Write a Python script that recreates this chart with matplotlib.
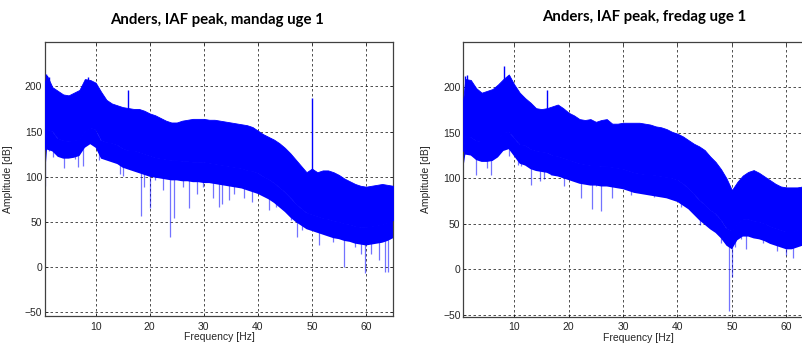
import numpy as np
import matplotlib
matplotlib.use('Agg')
import matplotlib.pyplot as plt

# spectrum envelopes on a 1 Hz grid (dB)
FREQ = [0.6] + list(range(1, 66))

# mandag: upper edge, lower edge of the solid band, lower edge of the dense fringe
MON_TOP = [205, 212, 199, 195, 191, 190, 193, 196, 208, 207, 204,
           194, 185, 181, 179, 177, 176, 175, 175, 173, 170,
           168, 165, 162, 160, 160, 162, 163, 164, 164, 164,
           163, 163, 162, 161, 160, 159, 158, 157, 155, 151,
           147, 144, 141, 137, 132, 126, 119, 112, 105, 109,
           105, 107, 107, 105, 102, 98, 95, 92, 90, 89,
           90, 91, 92, 91, 90]
MON_LOW = [130, 152, 150, 142, 140, 139, 140, 141, 150, 154, 152,
           140, 138, 137, 135, 131, 129, 129, 127, 125, 123,
           121, 120, 119, 118, 118, 117, 117, 116, 116, 116,
           115, 114, 113, 112, 111, 110, 109, 107, 106, 104,
           100, 97, 93, 88, 83, 77, 70, 65, 60, 58,
           56, 54, 53, 51, 50, 48, 47, 45, 44, 44,
           45, 46, 47, 49, 52]
MON_FRINGE = [100, 130, 128, 122, 120, 120, 121, 123, 132, 136, 132,
              120, 118, 116, 114, 110, 108, 106, 104, 102, 100,
              99, 98, 97, 96, 96, 95, 95, 94, 94, 93,
              93, 92, 91, 90, 89, 88, 87, 85, 83, 81,
              78, 75, 71, 66, 61, 55, 50, 46, 42, 40,
              38, 36, 34, 32, 31, 29, 28, 26, 25, 24,
              25, 26, 27, 29, 32]

# fredag
FRI_TOP = [186, 209, 208, 199, 194, 196, 198, 203, 209, 214, 203,
           194, 188, 183, 177, 176, 177, 179, 181, 177, 172,
           169, 165, 164, 165, 162, 164, 165, 160, 160, 161,
           161, 161, 161, 160, 159, 157, 156, 154, 151, 149,
           146, 142, 138, 135, 131, 124, 118, 110, 100, 87,
           96, 103, 107, 109, 106, 102, 98, 94, 91, 90,
           90, 90, 91, 90, 90]
FRI_LOW = [130, 146, 145, 141, 140, 140, 140, 143, 150, 151, 144,
           137, 136, 132, 130, 129, 128, 125, 124, 122, 120,
           118, 116, 115, 114, 114, 113, 113, 112, 111, 110,
           108, 106, 105, 104, 104, 103, 102, 101, 100, 98,
           94, 89, 83, 76, 71, 65, 61, 54, 45, 42,
           50, 55, 55, 53, 52, 50, 47, 45, 43, 41,
           41, 43, 45, 45, 45]
FRI_FRINGE = [110, 126, 125, 120, 118, 118, 119, 123, 130, 132, 124,
              116, 114, 110, 108, 107, 106, 103, 102, 100, 98,
              96, 94, 93, 92, 92, 91, 91, 90, 89, 88,
              86, 84, 83, 82, 81, 80, 79, 78, 76, 74,
              70, 66, 60, 54, 49, 44, 40, 34, 26, 22,
              32, 36, 36, 34, 33, 31, 28, 26, 24, 22,
              22, 24, 26, 26, 26]

# deep downward dips
MON_DIP_F = [0.7, 1.3, 2.2, 3.1, 4.1, 5.3, 6.2, 6.8, 7.6, 8.3, 10.7, 11.1,
             12.0, 13.0, 13.8, 14.5, 15.1, 16.0, 17.5, 18.3, 18.9, 20.0,
             21.0, 21.9, 22.5, 23.7, 24.5, 25.6, 26.2, 27.3, 28.7, 29.9,
             30.8, 31.7, 32.9, 33.4, 34.6, 35.5, 37.4, 39.0, 39.8, 42.0,
             43.4, 44.4, 46.2, 47.3, 48.2, 49.2, 50.0, 51.3, 52.4, 53.9,
             55.7, 56.0, 57.9, 59.1, 59.9, 60.9, 62.4, 63.5, 64.1, 64.9]
MON_DIP_V = [90, 129, 122, 131, 110, 124, 120, 111, 112, 136, 118, 131,
             122, 118, 118, 103, 101, 125, 107, 57, 89, 65,
             96, 107, 85, 33, 54, 96, 89, 65, 81, 89,
             107, 76, 67, 70, 74, 81, 76, 72, 83, 63,
             67, 70, 52, 33, 41, 44, 55, 24, 37, 28,
             37, 0, 22, 15, -7, 15, 8, -5, -5, 37]

FRI_DIP_F = [0.7, 1.9, 3.0, 4.0, 4.9, 5.8, 6.8, 8.0, 9.1, 10.6, 11.3, 12.3,
             13.0, 13.8, 14.7, 15.4, 16.7, 17.8, 19.2, 20.2, 21.1, 22.2,
             23.3, 24.2, 25.1, 26.0, 26.9, 27.9, 28.8, 29.8, 30.9, 31.4,
             32.9, 34.5, 35.7, 37.8, 39.1, 40.6, 41.2, 42.8, 44.1, 45.1,
             46.2, 47.2, 48.0, 48.9, 49.4, 50.0, 50.6, 51.7, 52.6, 53.8,
             54.8, 55.7, 56.9, 58.2, 60.0, 61.2, 61.8, 62.8]
FRI_DIP_V = [127, 137, 104, 122, 111, 104, 126, 135, 125, 115, 113, 117,
             93, 110, 97, 99, 104, 108, 91, 104, 97, 78,
             95, 66, 91, 64, 97, 78, 91, 102, 91, 82,
             88, 86, 80, 82, 77, 69, 77, 73, 49, 55,
             57, 58, 29, 33, -46, -8, 25, 33, 22, 46,
             47, 29, 33, 20, 16, 13, 33, 29]

# narrow peaks above the band
MON_PEAK_F = [0.9, 1.3, 8.6, 16.0, 50.1]
MON_PEAK_V = [214, 210, 210, 196, 187]
FRI_PEAK_F = [0.9, 1.4, 8.2, 16.1]
FRI_PEAK_V = [212, 213, 223, 197]

TITLES = ['Anders, IAF peak, mandag uge 1', 'Anders, IAF peak, fredag uge 1']
X_TICKS = [10, 20, 30, 40, 50, 60]
Y_TICKS = [-50, 0, 50, 100, 150, 200]

TICK_FONT = 'Liberation Sans'
TITLE_FONT = 'Lato'
BLUE = '#0000ff'


def draw_spectrum(ax, top, low, fringe, dip_f, dip_v, peak_f, peak_v, ylim):
    freq = np.asarray(FREQ, dtype=float)
    low = np.asarray(low, dtype=float)
    # solid part of the trace
    ax.fill_between(freq, low, top, color=BLUE, lw=0.6, edgecolor=BLUE, zorder=3)
    # denser strokes under the solid part
    ax.fill_between(freq, fringe, low, facecolor='none', edgecolor=BLUE,
                    hatch='|' * 12, lw=0, zorder=2)
    dip_f = np.asarray(dip_f)
    ax.vlines(dip_f, dip_v, np.interp(dip_f, freq, low),
              colors=BLUE, lw=0.9, alpha=0.55, zorder=2)
    peak_f = np.asarray(peak_f)
    ax.vlines(peak_f, np.interp(peak_f, freq, top) - 6, peak_v,
              colors=BLUE, lw=1.0, zorder=3)

    ax.set_xlim(0.63, 65)
    ax.set_ylim(*ylim)
    ax.set_xticks(X_TICKS)
    ax.set_yticks(Y_TICKS)
    ax.set_axisbelow(True)
    ax.grid(True, color='black', lw=0.6, linestyle=(0, (3, 3)), alpha=0.8)
    ax.tick_params(direction='in', length=2.5, width=0.6, top=True, right=True,
                   labelsize=7.5, colors='#262626')
    ax.tick_params(axis='x', pad=4)
    ax.tick_params(axis='y', pad=2)
    for lbl in ax.get_xticklabels() + ax.get_yticklabels():
        lbl.set_fontfamily(TICK_FONT)
    for sp in ax.spines.values():
        sp.set_color('#404040')
        sp.set_linewidth(0.9)
    ax.set_xlabel('Frequency [Hz]', fontsize=7.5, family=TICK_FONT, color='#262626')
    ax.set_ylabel('Amplitude [dB]', fontsize=7.5, family=TICK_FONT, color='#262626')


plt.rcParams['hatch.linewidth'] = 1.0

fig = plt.figure(figsize=(8.03, 3.45), dpi=100)

ax1 = fig.add_axes([45 / 803, 29 / 345, 348 / 803, 274 / 345])
draw_spectrum(ax1, MON_TOP, MON_LOW, MON_FRINGE, MON_DIP_F, MON_DIP_V,
              MON_PEAK_F, MON_PEAK_V, (-54, 249))
ax1.set_title(TITLES[0], fontsize=10.8, fontweight='bold', family=TITLE_FONT, pad=13, x=0.493)
ax1.xaxis.set_label_coords(0.5, -0.058)
ax1.yaxis.set_label_coords(-32 / 348, 0.5)

# second axes runs past the right edge of the canvas
ax2 = fig.add_axes([463.3 / 803, 28.3 / 345, 350.2 / 803, 275 / 345])
draw_spectrum(ax2, FRI_TOP, FRI_LOW, FRI_FRINGE, FRI_DIP_F, FRI_DIP_V,
              FRI_PEAK_F, FRI_PEAK_V, (-52, 250))
ax2.set_title(TITLES[1], fontsize=10.8, fontweight='bold', family=TITLE_FONT, pad=15, x=0.516)
ax2.xaxis.set_label_coords(0.5, -0.058)
ax2.yaxis.set_label_coords(-32 / 350.2, 0.5)

fig.savefig('out.png', dpi=100)
